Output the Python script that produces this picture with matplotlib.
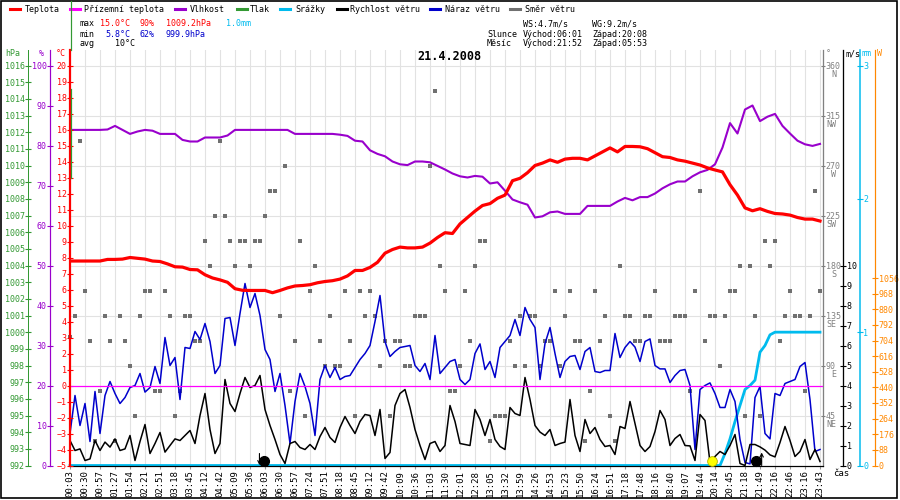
import numpy as np
import matplotlib
matplotlib.use("Agg")
import matplotlib.pyplot as plt
from matplotlib.lines import Line2D
from matplotlib.patches import Rectangle
import matplotlib.transforms as mtransforms

plt.rcParams['font.family'] = ['DejaVu Sans Mono']

# ---------------- data ----------------
time_labels = ["00:03","00:30","00:57","01:27","01:54","02:21","02:51","03:18","03:45","04:12",
               "04:42","05:09","05:36","06:03","06:30","06:57","07:24","07:51","08:18","08:45",
               "09:12","09:42","10:09","10:36","11:03","11:30","12:01","12:28","13:05","13:32",
               "13:59","14:26","14:53","15:23","15:50","16:24","16:51","17:18","17:48","18:16",
               "18:40","19:07","19:44","20:14","20:45","21:18","21:49","22:16","22:46","23:16",
               "23:43"]

# temperature [°C], two samples per label interval
temperature = [7.78, 7.78, 7.78, 7.78, 7.78, 7.88, 7.88, 7.9, 8.0, 7.95,
               7.9, 7.78, 7.75, 7.6, 7.42, 7.4, 7.25, 7.23, 6.92, 6.72,
               6.6, 6.45, 6.05, 5.95, 5.94, 5.94, 5.94, 5.8, 5.94, 6.1,
               6.22, 6.25, 6.3, 6.42, 6.5, 6.55, 6.65, 6.85, 7.19, 7.19,
               7.38, 7.7, 8.27, 8.5, 8.65, 8.6, 8.6, 8.65, 8.9, 9.25,
               9.55, 9.5, 10.1, 10.5, 10.9, 11.25, 11.37, 11.7, 11.9, 12.8,
               12.95, 13.3, 13.75, 13.9, 14.1, 13.95, 14.15, 14.2, 14.2, 14.1,
               14.35, 14.6, 14.85, 14.6, 14.94, 14.94, 14.92, 14.8, 14.55, 14.3,
               14.25, 14.1, 14.02, 13.9, 13.78, 13.6, 13.47, 13.35, 12.55, 11.9,
               11.1, 10.92, 11.05, 10.88, 10.75, 10.72, 10.65, 10.5, 10.4, 10.4,
               10.28]

# relative humidity [%]
humidity = [83.9, 83.9, 83.9, 83.9, 83.9, 84.0, 84.9, 83.9, 82.9, 83.5,
            83.9, 83.7, 82.9, 82.9, 82.9, 81.4, 81.0, 81.0, 82.0, 82.0,
            82.0, 82.5, 83.9, 83.9, 83.9, 83.9, 83.9, 83.9, 83.9, 83.9,
            82.9, 82.9, 82.9, 82.9, 82.9, 82.9, 82.7, 82.4, 81.2, 81.0,
            78.8, 77.9, 77.3, 76.0, 75.3, 75.1, 76.0, 76.0, 75.8, 74.9,
            74.0, 73.0, 72.3, 72.0, 72.4, 72.2, 70.5, 70.8, 68.7, 66.5,
            65.8, 65.2, 62.0, 62.3, 63.3, 63.5, 62.9, 62.9, 62.9, 64.9,
            64.9, 64.9, 64.9, 66.0, 66.9, 66.3, 67.1, 67.1, 68.0, 69.3,
            70.3, 71.0, 71.0, 72.3, 73.3, 73.9, 75.3, 79.5, 85.6, 83.0,
            89.0, 90.0, 86.1, 87.2, 87.9, 84.9, 83.0, 81.2, 80.3, 79.9,
            80.4]

# wind speed [m/s], three samples per label interval
wind_speed = [1.25, 0.75, 0.83, 0.25, 0.33, 1.25, 0.75, 1.17, 0.92, 1.33,
              0.75, 0.83, 1.5, 0.25, 1.2, 2.05, 0.6, 1.1, 1.65, 0.67,
              1.0, 1.33, 1.25, 1.5, 1.75, 1.1, 2.5, 3.6, 1.8, 0.6,
              1.1, 4.3, 3.1, 2.7, 3.6, 4.4, 3.9, 4.0, 4.5, 2.8,
              2.0, 1.3, 0.55, 0.1, 1.1, 1.2, 0.9, 0.8, 1.05, 0.8,
              1.45, 1.9, 1.4, 1.15, 1.9, 2.45, 2.0, 1.6, 2.2, 2.55,
              2.5, 1.5, 2.8, 0.35, 0.65, 3.0, 3.6, 3.8, 2.9, 1.8,
              1.0, 0.3, 1.1, 1.2, 0.7, 1.0, 3.0, 2.2, 1.1, 1.05,
              1.0, 2.8, 2.3, 1.5, 2.3, 1.3, 0.95, 0.8, 2.9, 2.6,
              2.5, 4.4, 3.3, 2.0, 1.67, 1.5, 1.8, 1.0, 1.1, 1.17,
              3.3, 1.5, 0.7, 2.3, 1.6, 1.9, 1.3, 0.95, 1.0, 0.55,
              1.95, 1.85, 3.2, 2.1, 1.0, 0.7, 0.95, 1.7, 2.75, 2.3,
              1.0, 1.35, 1.55, 1.0, 0.98, 0.25, 2.55, 2.25, 0.15, 0.45,
              0.7, 0.55, 1.0, 1.55, 0.1, 0.0, 1.05, 1.05, 0.93, 0.77,
              0.53, 0.43, 1.15, 1.95, 1.25, 0.45, 0.7, 1.3, 0.3, 0.8,
              0.2]

# wind gust [m/s]
wind_gust = [1.6, 3.5, 2.0, 3.1, 1.2, 3.7, 1.6, 3.5, 4.2, 3.6,
             3.1, 3.4, 3.9, 4.0, 4.6, 3.67, 3.9, 4.95, 4.1, 6.4,
             5.0, 5.4, 3.3, 5.9, 5.85, 6.7, 6.3, 7.1, 6.2, 4.6,
             5.0, 7.35, 7.4, 6.0, 7.6, 9.1, 7.9, 8.6, 7.5, 5.8,
             5.3, 3.7, 4.6, 3.0, 1.1, 3.2, 4.6, 3.95, 3.1, 1.5,
             4.3, 5.0, 4.4, 4.9, 4.3, 4.45, 4.5, 4.9, 5.3, 5.6,
             6.0, 7.2, 8.5, 6.2, 5.45, 5.7, 5.9, 5.95, 6.0, 5.0,
             4.7, 5.1, 4.3, 6.5, 4.6, 4.9, 5.2, 5.3, 4.3, 4.05,
             4.3, 5.6, 6.08, 4.8, 5.2, 4.4, 5.9, 6.2, 6.5, 7.3,
             6.5, 7.9, 7.3, 6.9, 4.3, 6.1, 6.9, 5.6, 4.4, 5.2,
             5.45, 5.5, 4.8, 5.7, 5.9, 4.7, 4.65, 4.75, 4.75, 6.6,
             5.4, 5.9, 6.2, 5.92, 5.2, 6.2, 6.33, 5.0, 4.83, 4.83,
             4.15, 4.5, 4.75, 4.8, 4.0, 0.8, 3.8, 4.0, 4.13, 3.6,
             2.9, 2.9, 3.8, 3.2, 1.3, 0.15, 0.08, 3.4, 3.95, 1.6,
             1.33, 3.6, 3.5, 4.1, 4.2, 4.3, 4.95, 5.15, 3.3, 0.7,
             0.8]

# wind direction [deg]
wind_dir = [116, 135, 292.5, 157.5, 112.5, 22.5, 67.5, 135, 112.5, 22.5,
            135, 112.5, 90, 45, 135, 157.5, 157.5, 67.5, 67.5, 157.5,
            135, 45, 67.5, 135, 135, 112.5, 112.5, 202.5, 180, 225,
            292.5, 225, 202.5, 180, 202.5, 202.5, 180, 202.5, 202.5, 225,
            247.5, 247.5, 135, 270, 67.5, 112.5, 202.5, 45, 157.5, 180,
            112.5, 90, 135, 90, 90, 157.5, 112.5, 45, 157.5, 135,
            157.5, 135, 90, 112.5, 45, 112.5, 112.5, 90, 90, 135,
            135, 135, 270, 337.5, 180, 157.5, 67.5, 67.5, 90, 157.5,
            112.5, 180, 202.5, 202.5, 22.5, 45, 45, 45, 112.5, 90,
            135, 90, 135, 135, 90, 112.5, 112.5, 157.5, 90, 135,
            157.5, 112.5, 112.5, 22.5, 67.5, 157.5, 112.5, 135, 45, 22.5,
            180, 135, 135, 112.5, 112.5, 135, 135, 157.5, 112.5, 112.5,
            112.5, 135, 135, 135, 67.5, 157.5, 247.5, 112.5, 135, 135,
            90, 135, 157.5, 157.5, 180, 45, 180, 135, 45, 202.5,
            180, 202.5, 112.5, 135, 157.5, 135, 135, 67.5, 135, 247.5,
            157.5]

# cumulative precipitation [mm]
rain = [0, 0, 0, 0, 0, 0, 0, 0, 0, 0,
        0, 0, 0, 0, 0, 0, 0, 0, 0, 0,
        0, 0, 0, 0, 0, 0, 0, 0, 0, 0,
        0, 0, 0, 0, 0, 0, 0, 0, 0, 0,
        0, 0, 0, 0, 0, 0, 0, 0, 0, 0,
        0, 0, 0, 0, 0, 0, 0, 0, 0, 0,
        0, 0, 0, 0, 0, 0, 0, 0, 0, 0,
        0, 0, 0, 0, 0, 0, 0, 0, 0, 0,
        0, 0, 0, 0, 0, 0, 0, 0, 0, 0,
        0, 0, 0, 0, 0, 0, 0, 0, 0, 0,
        0, 0, 0, 0, 0, 0, 0, 0, 0, 0,
        0, 0, 0, 0, 0, 0, 0, 0, 0, 0,
        0, 0, 0, 0, 0, 0, 0, 0, 0, 0,
        0, 0.09, 0.2, 0.33, 0.45, 0.57, 0.6, 0.64, 0.85, 0.9,
        0.98, 1.0, 1.0, 1.0, 1.0, 1.0, 1.0, 1.0, 1.0, 1.0,
        1.0]

# sun / moon events
event_times = ["05:53", "06:01", "20:08", "21:41", "21:52"]
event_kinds = ["down", "black", "yellow", "black", "up"]

dir_ticks = [45, 90, 135, 180, 225, 270, 315, 360]
dir_names = ["NE", "E", "SE", "S", "SW", "W", "NW", "N"]

# ---------------- style ----------------
C_T = '#ff0000'; C_GT = '#ff00ff'; C_H = '#9900cc'; C_P = '#339933'
C_R = '#00bbee'; C_WS = '#000000'; C_WG = '#0000cc'; C_WD = '#707070'; C_W = '#ff8800'
W, H = 900, 500
PT = 72.0 / 100.0  # points per pixel


def fx(x):
    return x / W


def fy(y):
    return 1 - y / H


fig = plt.figure(figsize=(9, 5), dpi=100)
fig.patch.set_facecolor('white')

top_px, bot_px, left_px, right_px = 50, 465.5, 70, 823
base = fig.add_axes([fx(left_px), fy(bot_px), (right_px - left_px) / W, (bot_px - top_px) / H])
ph = bot_px - top_px
base.set_xlim(0, 50.2)
base.set_ylim(0, ph / (400 / 360))


def make_twin(side, outward_px, color, lw_px=1.0):
    a = base.twinx()
    for s in a.spines.values():
        s.set_visible(False)
    sp = a.spines[side]
    sp.set_visible(True)
    sp.set_position(('outward', outward_px * PT))
    sp.set_color(color)
    sp.set_linewidth(lw_px * PT)
    if side == 'left':
        a.yaxis.tick_left()
        a.yaxis.set_label_position('left')
    else:
        a.yaxis.tick_right()
    a.tick_params(axis='y', colors=color, direction='inout', length=4, width=0.8,
                  labelsize=6, pad=0.5)
    return a


ax_hpa = make_twin('left', 42, C_P)
ax_hpa.set_ylim(992, 992 + ph / (400 / 24))
ax_hpa.set_yticks(range(992, 1017))

ax_mm = make_twin('right', 37, C_R, 1.5)
ax_mm.set_ylim(0, ph / (400 / 3))
ax_mm.set_yticks([0, 1, 2, 3])

ax_w = make_twin('right', 52.3, C_W, 1.2)
ax_w.set_ylim(0, ph * 1056 / 187.5)
ax_w.set_yticks(range(0, 1057, 88))

ax_ms = make_twin('right', 20.3, C_WS, 1.3)
ax_ms.set_ylim(0, ph / 20)
ax_ms.set_yticks(range(0, 11))

ax_pct = make_twin('left', 20, C_H, 1.2)
ax_pct.set_ylim(0, ph / 4)
ax_pct.set_yticks(range(0, 101, 10))

ax_t = make_twin('left', 0, C_T, 2.2)
ax_t.set_ylim(-5, -5 + ph / 16)
ax_t.set_yticks(range(-5, 21))

# base (direction axis + grid)
for s in ['top', 'left']:
    base.spines[s].set_visible(False)
base.spines['bottom'].set_color('black')
base.spines['bottom'].set_linewidth(0.8)
base.spines['right'].set_color('#808080')
base.spines['right'].set_linewidth(1.3 * PT)
base.yaxis.tick_right()
base.set_yticks(dir_ticks)
base.set_yticklabels([str(t) for t in dir_ticks])
base.tick_params(axis='y', colors='#808080', direction='inout', length=3, width=0.8,
                 labelsize=6, pad=0.5)
base.set_xticks(range(len(time_labels)))
base.set_xticklabels(time_labels, rotation=90, fontsize=6.5)
base.tick_params(axis='x', direction='out', length=2.5, color='#999999', pad=1)
base.grid(True, color='#e2e2e2', linewidth=0.8)
base.set_axisbelow(True)

tr = mtransforms.blended_transform_factory(base.transAxes, base.transData)
for t, n in zip(dir_ticks, dir_names):
    base.text((836 - left_px) / (right_px - left_px), t - 8.5, n, transform=tr,
              ha='right', va='center', fontsize=6, color='#808080', clip_on=False)

# x positions of samples
x_half = np.arange(len(temperature)) * 0.5
x_third = np.arange(len(wind_speed)) / 3.0

# direction squares
base.plot(x_third, wind_dir, linestyle='none', marker='s', markersize=3.0,
          color=C_WD, markeredgewidth=0, clip_on=False, zorder=2)

# precipitation
ax_mm.plot(x_third, rain, color=C_R, linewidth=2.0, clip_on=False, zorder=3)

# wind
ax_ms.axhline(0, color='black', linewidth=0.8, clip_on=False, zorder=2)
ax_ms.plot(x_third, wind_gust, color=C_WG, linewidth=1.1, zorder=3)
ax_ms.plot(x_third, wind_speed, color=C_WS, linewidth=1.1, zorder=4)

# sun / moon markers
tick_min = [int(t[:2]) * 60 + int(t[3:]) for t in time_labels]
for et, kind in zip(event_times, event_kinds):
    m = int(et[:2]) * 60 + int(et[3:])
    xi = np.interp(m, tick_min, np.arange(len(time_labels)))
    if kind == 'black':
        ax_ms.plot([xi], [0.24], 'o', ms=7, color='black', zorder=6, clip_on=False)
    elif kind == 'yellow':
        ax_ms.plot([xi], [0.24], 'o', ms=7, mfc='#ffff00', mec='#b0b000', mew=0.6,
                   zorder=6, clip_on=False)
    elif kind == 'up':
        ax_ms.annotate('', xy=(xi, 0.65), xytext=(xi, 0.0),
                       arrowprops=dict(arrowstyle='->', lw=0.8, color='black',
                                       shrinkA=0, shrinkB=0, mutation_scale=6))
    else:
        ax_ms.annotate('', xy=(xi, 0.02), xytext=(xi, 0.6),
                       arrowprops=dict(arrowstyle='->', lw=0.8, color='black',
                                       shrinkA=0, shrinkB=0, mutation_scale=6))

# humidity
ax_pct.plot(x_half, humidity, color=C_H, linewidth=1.5, zorder=3)

# ground temperature line and temperature
ax_t.axhline(0, color=C_GT, linewidth=0.9, zorder=2)
ax_t.plot(x_half, temperature, color=C_T, linewidth=2.3, zorder=4)

# ---------------- texts ----------------
fs = 6.0
legend_items = [(10, 25, C_T, "Teplota"), (70, 84, C_GT, "Přízemní teplota"),
                (175, 190, C_H, "Vlhkost"), (237, 250, C_P, "Tlak"),
                (280, 295, C_R, "Srážky"), (337, 350, C_WS, "Rychlost větru"),
                (430, 445, C_WG, "Náraz větru"), (510, 525, C_WD, "Směr větru")]
for lx, tx, c, label in legend_items:
    fig.add_artist(Line2D([fx(lx), fx(lx + 10)], [fy(9), fy(9)], transform=fig.transFigure,
                          color=c, linewidth=2.2))
    fig.text(fx(tx), fy(9), label, ha='left', va='center', fontsize=fs, color='black')

stats = [(80, 24, "max", 'black'), (100, 24, "15.0°C", C_T), (140, 24, "90%", C_T),
         (166, 24, "1009.2hPa", C_T), (226, 24, "1.0mm", C_R),
         (80, 34, "min", 'black'), (105, 34, "5.8°C", C_WG), (140, 34, "62%", C_WG),
         (165, 34, "999.9hPa", C_WG),
         (80, 44, "avg", 'black'), (115, 44, "10°C", 'black'),
         (523, 24, "WS:4.7m/s", 'black'), (592, 24, "WG:9.2m/s", 'black'),
         (487, 34, "Slunce", 'black'), (523, 34, "Východ:06:01", 'black'),
         (592, 34, "Západ:20:08", 'black'),
         (487, 44, "Měsíc", 'black'), (523, 44, "Východ:21:52", 'black'),
         (592, 44, "Západ:05:53", 'black')]
for sx, sy, txt, c in stats:
    fig.text(fx(sx), fy(sy), txt, ha='left', va='center', fontsize=fs, color=c)

fig.text(fx(449), fy(57), "21.4.2008", ha='center', va='center', fontsize=8.5,
         fontweight='bold', color='black')

units = [(5, "hPa", C_P), (39, "%", C_H), (56, "°C", C_T), (826, "°", '#808080'),
         (846, "m/s", C_WS), (862, "mm", C_R), (877, "W", C_W)]
for ux, txt, c in units:
    fig.text(fx(ux), fy(54), txt, ha='left', va='center', fontsize=6, color=c)

fig.text(fx(833), fy(474), "čas", ha='left', va='center', fontsize=6.5, color='black')

# decorative green segment and outer frame
fig.add_artist(Line2D([fx(71), fx(71)], [fy(1), fy(50)], transform=fig.transFigure,
                      color=C_P, linewidth=1.2 * PT))
fig.add_artist(Line2D([fx(71), fx(71)], [fy(89), fy(178)], transform=fig.transFigure,
                      color=C_P, linewidth=1.2 * PT, zorder=10))
fig.add_artist(Rectangle((fx(0.5), fy(497.5)), fx(896.5), (497) / H, transform=fig.transFigure,
                         fill=False, edgecolor='black', linewidth=1.2))

fig.savefig("out.png", dpi=100)
